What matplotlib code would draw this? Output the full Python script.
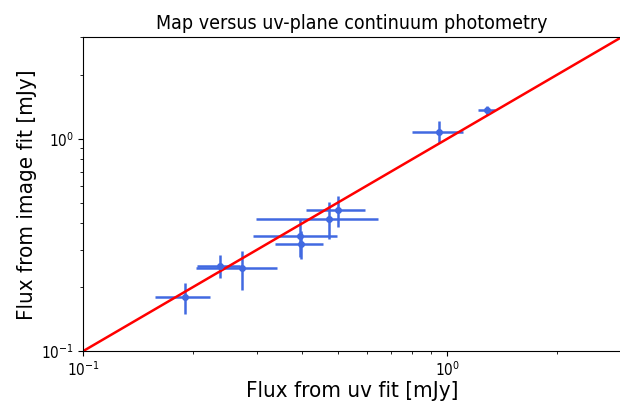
import matplotlib
matplotlib.use('Agg')
import matplotlib.pyplot as plt
import numpy as np

# uv-plane fluxes and image-fit fluxes [mJy], with 1-sigma errors
flux_uv = [0.190, 0.237, 0.272, 0.396, 0.395, 0.472, 0.501, 0.950, 1.282]
err_uv = [0.033, 0.032, 0.068, 0.060, 0.102, 0.173, 0.093, 0.152, 0.070]
flux_img = [0.180, 0.252, 0.245, 0.320, 0.348, 0.419, 0.462, 1.080, 1.360]
err_img = [0.030, 0.031, 0.052, 0.049, 0.070, 0.082, 0.077, 0.126, 0.066]

lims = [0.1, 3.0]

# condensed DejaVu, also for the mathtext tick labels
plt.rcParams['font.family'] = 'DejaVu Sans'
plt.rcParams['font.stretch'] = 'condensed'
plt.rcParams['mathtext.fontset'] = 'custom'
plt.rcParams['mathtext.rm'] = 'DejaVu Sans:stretch=condensed'
plt.rcParams['mathtext.it'] = 'DejaVu Sans:italic:stretch=condensed'
plt.rcParams['mathtext.bf'] = 'DejaVu Sans:bold:stretch=condensed'

fig = plt.figure(figsize=(6.2, 4.03), dpi=100)
ax = fig.add_axes([0.1344, 0.129, 0.8672, 0.778])

ax.errorbar(flux_uv, flux_img, xerr=err_uv, yerr=err_img, fmt='o', color='royalblue',
            ms=4, elinewidth=1.8, capsize=0)
ax.plot(lims, lims, color='red', lw=1.8)

ax.set_xscale('log')
ax.set_yscale('log')
ax.set_xlim(lims)
ax.set_ylim(lims)

ax.set_title('Map versus uv-plane continuum photometry', fontsize=14)
ax.set_xlabel('Flux from uv fit [mJy]', fontsize=16, labelpad=1)
ax.set_ylabel('Flux from image fit [mJy]', fontsize=16, labelpad=3)
ax.tick_params(labelsize=11)

fig.savefig('out.png', dpi=100)
